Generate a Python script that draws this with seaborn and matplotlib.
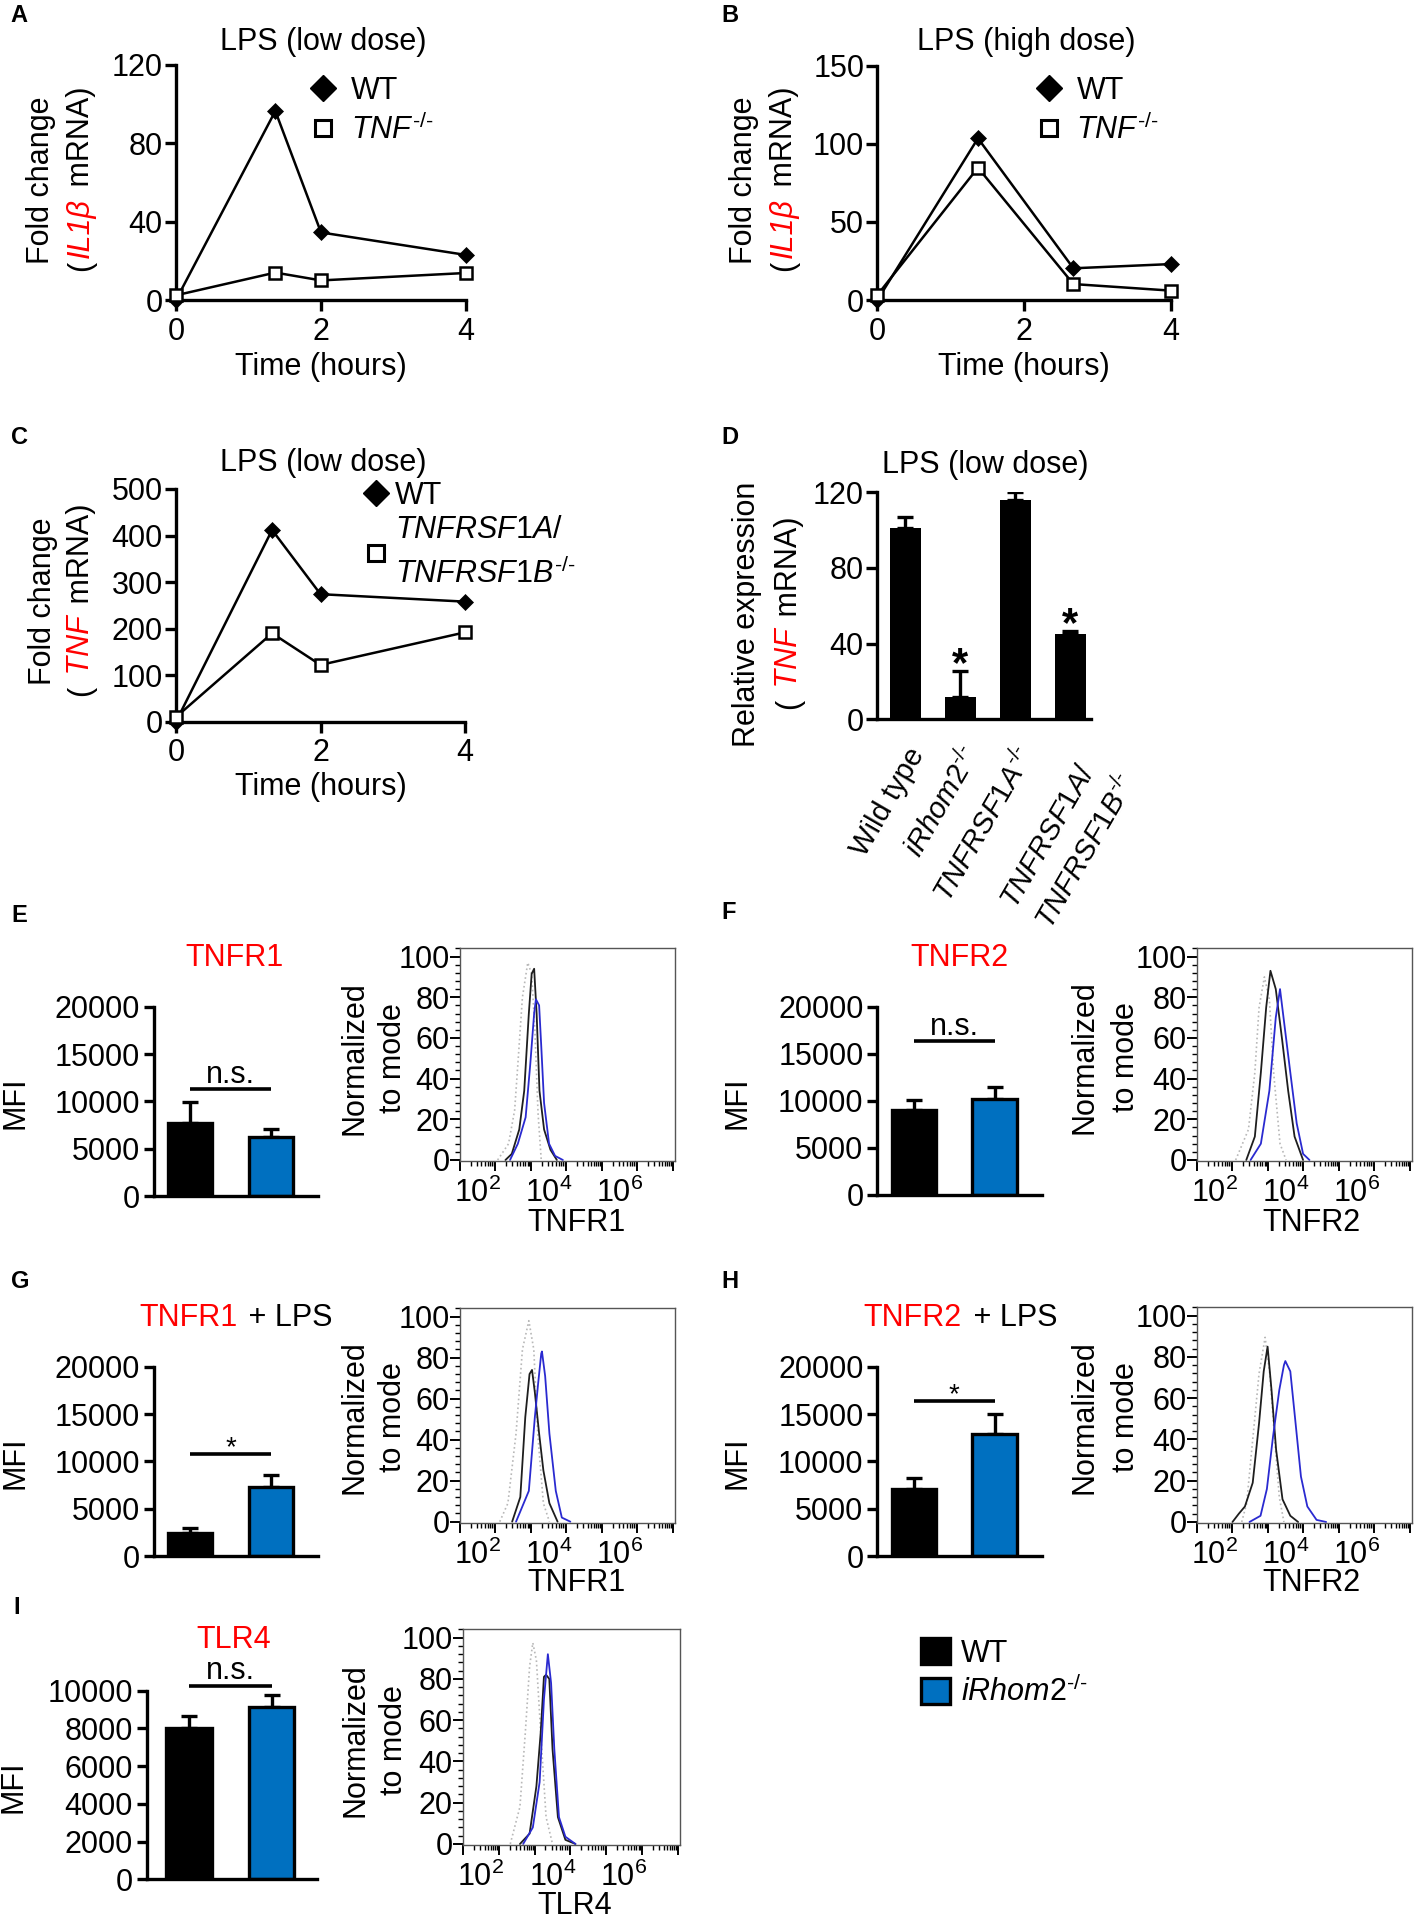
#%%
import matplotlib
matplotlib.use('Agg')
import matplotlib.pyplot as plt
import matplotlib.patches as mpatches
from matplotlib.lines import Line2D
from matplotlib.ticker import AutoMinorLocator, LogLocator, NullFormatter
from matplotlib.transforms import IdentityTransform, ScaledTranslation
import seaborn as sns

#%% values
# A - IL1b mRNA, LPS low dose
time_a = [0, 1.37, 2, 4]
wt_a = [0, 96.5, 34.5, 23]
tnf_a = [2.4, 14, 10, 13.8]
# B - IL1b mRNA, LPS high dose
time_b = [0, 1.37, 2.67, 4]
wt_b = [0, 103.5, 20.3, 23]
tnf_b = [3.2, 84.7, 10.2, 6]
# C - TNF mRNA, LPS low dose
time_c = [0, 1.33, 2, 4]
wt_c = [0, 412, 274, 258]
dko_c = [10, 190, 122, 192]
# D - relative TNF expression
d_groups = ['Wild type', 'iRhom2-/-', 'TNFRSF1A-/-', 'TNFRSF1A/TNFRSF1B-/-']
d_labels = ['Wild type', r'$\mathit{iRhom2}^{\text{-/-}}$', r'$\mathit{TNFRSF1A}^{\text{-/-}}$',
            '$\\mathit{TNFRSF1A/}$\n$\\mathit{TNFRSF1B}^{\\text{-/-}}$']
d_mean = [101, 12, 115.9, 44.9]
d_err = [6.1, 13.7, 4.1, 1.8]
d_star = [False, True, False, True]

# E-I - MFI, WT vs iRhom2-/-
mfi_groups = ['WT', 'iRhom2-/-']
mfi_e, err_e = [7700, 6270], [2250, 850]
mfi_f, err_f = [9030, 10200], [1060, 1300]
mfi_g, err_g = [2470, 7250], [520, 1270]
mfi_h, err_h = [7080, 12920], [1130, 2080]
mfi_i, err_i = [8000, 9150], [650, 620]

# flow histograms: (intensity, % of mode) for isotype, WT, iRhom2-/-
e_iso = ([115, 234, 347, 427, 575, 813, 1047, 1288, 1585, 1950], [0, 8, 24.5, 47, 80, 97, 91.5, 64, 23, 0])
e_wt = ([191, 288, 468, 646, 871, 1047, 1230, 1445, 1738, 2344, 3548, 5370], [0, 3, 15, 34, 72, 91.5, 94, 72, 34, 15, 5, 0])
e_ko = ([257, 427, 708, 955, 1230, 1380, 1698, 1950, 2344, 3236, 4786, 7943], [0, 8, 21, 47, 72, 79, 76, 56, 28, 8, 2, 0])

f_iso = ([123, 282, 427, 562, 794, 1096, 1445, 2188, 3236], [0, 15, 43, 75, 90, 79, 43, 8, 0])
f_wt = ([245, 427, 631, 891, 1175, 1660, 2512, 3715, 5623, 9772], [0, 11.5, 43, 75, 93, 84, 59, 34, 11.5, 0])
f_ko = ([324, 631, 1096, 1660, 2188, 2884, 4266, 6457, 9772, 14791], [0, 8, 34, 70, 84, 67, 43, 18, 3, 0])

g_iso = ([132, 224, 380, 575, 871, 1202, 1549, 2239, 3311], [0, 9, 43, 84, 98, 84, 43, 9, 0])
g_wt = ([295, 501, 692, 912, 1072, 1288, 1698, 2239, 3311, 5623], [0, 12, 51, 72, 74, 63, 43, 25, 9, 0])
g_ko = ([380, 871, 1288, 1585, 1950, 2042, 2512, 3311, 5012, 7413, 12882], [0, 15, 51, 67, 82, 83, 71, 43, 15, 2, 0])

h_iso = ([182, 251, 372, 562, 832, 1122, 1549, 2089, 2818], [0, 9, 40, 72, 89.5, 72, 40, 12, 0])
h_wt = ([100, 151, 224, 372, 562, 759, 977, 1259, 1698, 2570, 4266, 7079], [0, 4, 7.5, 19, 48, 73, 85, 64, 35, 11, 3, 0])
h_ko = ([302, 617, 933, 1380, 2089, 2818, 3090, 4266, 5754, 8511, 12882, 23442, 43652],
        [0, 3, 16, 41, 64, 76, 78, 73, 51, 22, 7.5, 1, 0])

i_iso = ([209, 389, 550, 724, 891, 1122, 1479, 2089, 3162], [0, 18, 54, 86, 97.5, 89, 54, 13, 0])
i_wt = ([389, 724, 1122, 1479, 1820, 2089, 2570, 3162, 4467, 7244, 13804], [0, 5, 28, 54, 81, 82, 80, 46, 13, 2, 0])
i_ko = ([479, 891, 1380, 1820, 2344, 2884, 3548, 4786, 7244, 13804], [0, 8, 30, 70, 92, 78, 46, 13, 3.5, 0])

hist_decades = [1e1, 1e2, 1e3, 1e4, 1e5, 1e6, 1e7]
hist_decade_labels = ['', r'$10^{2}$', '', r'$10^{4}$', '', r'$10^{6}$', '']
hist_yticks = [0, 20, 40, 60, 80, 100]

#%% style
sns.set_theme(style='ticks', rc={
    'axes.linewidth': 2.4, 'axes.edgecolor': 'black',
    'xtick.major.width': 2.4, 'ytick.major.width': 2.4,
    'xtick.major.size': 8, 'ytick.major.size': 8,
    'text.color': 'black', 'axes.labelcolor': 'black',
    'xtick.color': 'black', 'ytick.color': 'black',
    'font.size': 22, 'xtick.labelsize': 22, 'ytick.labelsize': 22, 'legend.fontsize': 22,
})
plt.rcParams['font.family'] = ['Liberation Sans', 'DejaVu Sans']
plt.rcParams['mathtext.fontset'] = 'custom'
plt.rcParams['mathtext.rm'] = 'Liberation Sans'
plt.rcParams['mathtext.it'] = 'Liberation Sans:italic'
plt.rcParams['mathtext.bf'] = 'Liberation Sans:bold'
plt.rcParams['mathtext.sf'] = 'Liberation Sans'

FW, FH, DPI = 1418, 1918, 100
RED, BLUE = '#ff0000', '#0070c0'
FS = 22

fig = plt.figure(figsize=(FW / DPI, FH / DPI), dpi=DPI)
fig.patch.set_facecolor('white')
renderer = fig.canvas.get_renderer()


def P(x, y):
    # pixel position (origin top left) -> figure fraction
    return (x / FW, 1 - y / FH)


def add_ax(left, top, right, bottom):
    return fig.add_axes([left / FW, 1 - bottom / FH, (right - left) / FW, (bottom - top) / FH])


def rich_text(parts, x, y, size=FS, rotation=0, gap=3):
    # several coloured pieces on one line, centred on pixel (x, y)
    texts, px, py = [], 0.0, 0.0
    for s, color, style in parts:
        t = fig.text(px, py, s, color=color, style=style, fontsize=size, rotation=rotation,
                     rotation_mode='anchor', ha='left', va='baseline', transform=IdentityTransform())
        bb = t.get_window_extent(renderer)
        if rotation == 0:
            px += bb.width + gap
        else:
            py += bb.height + gap
        texts.append(t)
    bbs = [t.get_window_extent(renderer) for t in texts]
    cx = (min(b.x0 for b in bbs) + max(b.x1 for b in bbs)) / 2
    cy = (min(b.y0 for b in bbs) + max(b.y1 for b in bbs)) / 2
    dx, dy = x - cx, (FH - y) - cy
    for t in texts:
        ox, oy = t.get_position()
        t.set_position((ox + dx, oy + dy))


def label(x, y, s, **kw):
    kw.setdefault('ha', 'center')
    kw.setdefault('va', 'center')
    kw.setdefault('fontsize', FS)
    return fig.text(*P(x, y), s, **kw)


def time_course(box, t, wt, ko, ymax, yticks, ko_label, leg_loc, leg_anchor, textpad, spacing):
    ax = add_ax(*box)
    sns.lineplot(x=t, y=wt, ax=ax, color='black', lw=1.8, marker='D', ms=8.5,
                 mec='black', mew=0.5, clip_on=False, zorder=3)
    sns.lineplot(x=t, y=ko, ax=ax, color='black', lw=1.8, marker='s', ms=8.5,
                 mfc='white', mec='black', mew=1.8, clip_on=False, zorder=4)
    ax.set_xlim(0, 4)
    ax.set_ylim(0, ymax)
    ax.set_xticks([0, 2, 4])
    ax.set_yticks(yticks)
    sns.despine(ax=ax)
    ax.tick_params(axis='y', pad=1.5)
    ax.tick_params(axis='x', pad=4)
    handles = [Line2D([], [], ls='none', marker='D', ms=13, color='black'),
               Line2D([], [], ls='none', marker='s', ms=11, mfc='white', mec='black', mew=2.2)]
    leg = ax.legend(handles, ['WT', ko_label], loc=leg_loc, bbox_to_anchor=leg_anchor, frameon=False,
                    handlelength=1.0, handletextpad=textpad, labelspacing=spacing,
                    borderpad=0, borderaxespad=0)
    return ax, leg


def mfi_panel(box, means, errs, ymax, yticks, xlim, sig_h, sig_label, sig_size, sig_off):
    ax = add_ax(*box)
    sns.barplot(x=mfi_groups, y=means, hue=mfi_groups, palette=['black', BLUE], legend=False,
                ax=ax, width=0.55, saturation=1, edgecolor='black', linewidth=2.4, errorbar=None)
    ax.errorbar([0, 1], means, yerr=[[0, 0], errs], fmt='none', ecolor='black',
                elinewidth=2.4, capsize=5.5, capthick=2.4, zorder=0.5)
    ax.set_xlim(*xlim)
    ax.set_ylim(0, ymax)
    ax.set_yticks(yticks)
    ax.set_xticks([])
    ax.set_xlabel('')
    ax.set_ylabel('')
    sns.despine(ax=ax)
    ax.tick_params(axis='y', length=7, pad=3)
    ax.plot([0, 1], [sig_h, sig_h], color='black', lw=2.6, clip_on=False, solid_capstyle='butt')
    ax.annotate(sig_label, (0.5, sig_h), xytext=(0, sig_off), textcoords='offset points',
                ha='center', va='center', fontsize=sig_size, annotation_clip=False)
    return ax


HIST_STYLES = [dict(color='#b8b8b8', lw=1.2, ls=':'),
               dict(color='#1e1e1e', lw=1.3),
               dict(color='#2a2ad0', lw=1.3)]


def histogram(box, iso, wt, ko, name, xlab_xy, ylab_xs, ylab_y):
    ax = add_ax(*box)
    for (xs, ys), kw in zip((iso, wt, ko), HIST_STYLES):
        sns.lineplot(x=xs, y=ys, ax=ax, **kw)
    ax.set_xscale('log')
    ax.set_xlim(10 ** 1.41, 10 ** 7.06)
    ax.set_ylim(-0.5, 104.2)
    ax.set_xticks(hist_decades, labels=hist_decade_labels)
    ax.xaxis.set_minor_locator(LogLocator(base=10, subs=range(2, 10), numticks=20))
    ax.xaxis.set_minor_formatter(NullFormatter())
    ax.set_yticks(hist_yticks)
    ax.yaxis.set_minor_locator(AutoMinorLocator(5))
    ax.tick_params(which='major', length=7, width=1.4, pad=0.5)
    ax.tick_params(axis='x', which='major', pad=5)
    ax.tick_params(which='minor', length=3.5, width=1.0)
    for sp in ax.spines.values():
        sp.set_color('#555555')
        sp.set_linewidth(1.0)
    shift = ScaledTranslation(-18 / DPI, 0, fig.dpi_scale_trans)
    for lab in ax.get_xticklabels():
        lab.set_transform(lab.get_transform() + shift)
    label(*xlab_xy, name)
    label(ylab_xs[0], ylab_y, 'Normalized', rotation=90)
    label(ylab_xs[1], ylab_y, 'to mode', rotation=90)
    return ax


TNF_KO = r'$\mathit{TNF}^{\text{-/-}}$'

#%% A
time_course((176, 65, 466, 300), time_a, wt_a, tnf_a, 120, [0, 40, 80, 120],
            TNF_KO, 'center left', (0.455, 0.805), 0.4, 0.25)
label(323, 41.7, 'LPS (low dose)')
label(320.7, 366.7, 'Time (hours)')
label(40.6, 180, 'Fold change', rotation=90)
rich_text([('(', 'black', 'normal'), ('IL1β', RED, 'italic'), (' mRNA)', 'black', 'normal')], 81, 179, rotation=90)

#%% B
time_course((877.4, 65.7, 1171, 300), time_b, wt_b, tnf_b, 150, [0, 50, 100, 150],
            TNF_KO, 'center left', (0.532, 0.807), 0.4, 0.25)
label(1026.5, 41.7, 'LPS (high dose)')
label(1024, 366.7, 'Time (hours)')
label(744, 180, 'Fold change', rotation=90)
rich_text([('(', 'black', 'normal'), ('IL1β', RED, 'italic'), (' mRNA)', 'black', 'normal')], 784, 179, rotation=90)

#%% C
ax_c, leg_c = time_course((176, 489, 465, 721.7), time_c, wt_c, dko_c, 500, [0, 100, 200, 300, 400, 500],
                          '$\\mathit{TNFRSF1A/}$\n$\\mathit{TNFRSF1B}^{\\text{-/-}}$', 'upper left',
                          (0.640, 1.036), 0.1, 0.15)
leg_c.get_texts()[1].set_linespacing(1.5)
label(323, 463.3, 'LPS (low dose)')
label(320.7, 786.7, 'Time (hours)')
label(43, 600.8, 'Fold change', rotation=90)
rich_text([('(', 'black', 'normal'), (' TNF', RED, 'italic'), (' mRNA)', 'black', 'normal')], 81, 600, rotation=90)

#%% D
ax_d = add_ax(876.7, 492.3, 1090.7, 719.3)
sns.barplot(x=d_groups, y=d_mean, ax=ax_d, color='black', width=0.56, saturation=1,
            linewidth=0, errorbar=None)
ax_d.errorbar(range(len(d_mean)), d_mean, yerr=[[0] * len(d_err), d_err], fmt='none', ecolor='black',
              elinewidth=2.4, capsize=5.5, capthick=2.4, zorder=0.5)
for i, (m, e, s) in enumerate(zip(d_mean, d_err, d_star)):
    if s:
        ax_d.annotate('*', (i, m + e), xytext=(0, 4), textcoords='offset points', ha='center',
                      va='center', fontsize=30, fontweight='bold', annotation_clip=False)
ax_d.set_xlim(-0.524, 3.37)
ax_d.set_ylim(0, 120)
ax_d.set_yticks([0, 40, 80, 120])
ax_d.set_xticks(range(len(d_labels)), labels=d_labels, rotation=60, ha='right', va='center',
                rotation_mode='anchor', fontsize=21)
ax_d.set_xlabel('')
ax_d.set_ylabel('')
sns.despine(ax=ax_d)
ax_d.tick_params(axis='x', length=0, pad=22)
ax_d.tick_params(axis='y', pad=1.5)
d_shift = ScaledTranslation(12 / DPI, 0, fig.dpi_scale_trans)
for lab in ax_d.get_xticklabels():
    lab.set_transform(lab.get_transform() + d_shift)
    lab.set_multialignment('left')
ax_d.get_xticklabels()[-1].set_linespacing(1.45)
ax_d.get_xticklabels()[-1].set_verticalalignment('top')
label(985, 465, 'LPS (low dose)')
label(747, 614, 'Relative expression', rotation=90)
rich_text([('(', 'black', 'normal'), (' TNF', RED, 'italic'), (' mRNA)', 'black', 'normal')], 789, 613, rotation=90)

#%% E-I bars
MFI20 = [0, 5000, 10000, 15000, 20000]
mfi_panel((153.6, 1006.7, 318.4, 1196), mfi_e, err_e, 20000, MFI20, (-0.45, 1.585), 11300, 'n.s.', FS, 10)
mfi_panel((877.4, 1006.7, 1041.8, 1195), mfi_f, err_f, 20000, MFI20, (-0.45, 1.585), 16400, 'n.s.', FS, 10)
mfi_panel((153.6, 1366.7, 318.4, 1556), mfi_g, err_g, 20000, MFI20, (-0.45, 1.585), 10780, '*', 20, 4)
mfi_panel((877.4, 1366.7, 1041.8, 1556), mfi_h, err_h, 20000, MFI20, (-0.45, 1.585), 16400, '*', 20, 4)
mfi_panel((146.9, 1690.7, 317, 1879.3), mfi_i, err_i, 10000, [0, 2000, 4000, 6000, 8000, 10000],
          (-0.51, 1.55), 10250, 'n.s.', FS, 11)

for x, y in [(16, 1103), (737, 1103), (16, 1463), (737, 1463), (14, 1787)]:
    label(x, y, 'MFI', rotation=90)

label(235, 958, 'TNFR1', color=RED)
label(959.4, 958.3, 'TNFR2', color=RED)
rich_text([('TNFR1', RED, 'normal'), (' + LPS', 'black', 'normal')], 236, 1318)
rich_text([('TNFR2', RED, 'normal'), (' + LPS', 'black', 'normal')], 960.4, 1318)
label(234, 1640, 'TLR4', color=RED)

#%% histograms
histogram((460, 948, 675, 1161), e_iso, e_wt, e_ko, 'TNFR1', (576, 1223), (354.6, 393), 1058)
histogram((1197, 948, 1412, 1161), f_iso, f_wt, f_ko, 'TNFR2', (1311, 1223), (1084.4, 1126), 1057)
histogram((460, 1308, 675, 1522.7), g_iso, g_wt, g_ko, 'TNFR1', (576, 1583), (354.6, 393), 1417)
histogram((1197, 1307, 1412, 1523), h_iso, h_wt, h_ko, 'TNFR2', (1311, 1583), (1084.4, 1126), 1417)
histogram((463, 1629, 680, 1845), i_iso, i_wt, i_ko, 'TLR4', (575, 1906), (355, 394), 1740)

#%% genotype legend
fig.legend(handles=[mpatches.Patch(facecolor='black', edgecolor='black', lw=2.4),
                    mpatches.Patch(facecolor=BLUE, edgecolor='black', lw=2.4)],
           labels=['WT', r'$\mathit{iRhom2}^{\text{-/-}}$'], loc='upper left', bbox_to_anchor=P(921, 1638),
           frameon=False, handlelength=0.95, handleheight=0.95, handletextpad=0.35,
           labelspacing=0.25, borderpad=0, borderaxespad=0, fontsize=FS)

#%% panel letters
for s, x, y in [('A', 10, 15), ('B', 721, 15), ('C', 11, 437), ('D', 721, 437), ('E', 11, 915),
                ('F', 721, 913), ('G', 11, 1282), ('H', 721, 1282), ('I', 13, 1608)]:
    label(x, y, s, ha='left', fontsize=17, fontweight='bold')

fig.savefig('out.png', dpi=DPI, facecolor='white')
